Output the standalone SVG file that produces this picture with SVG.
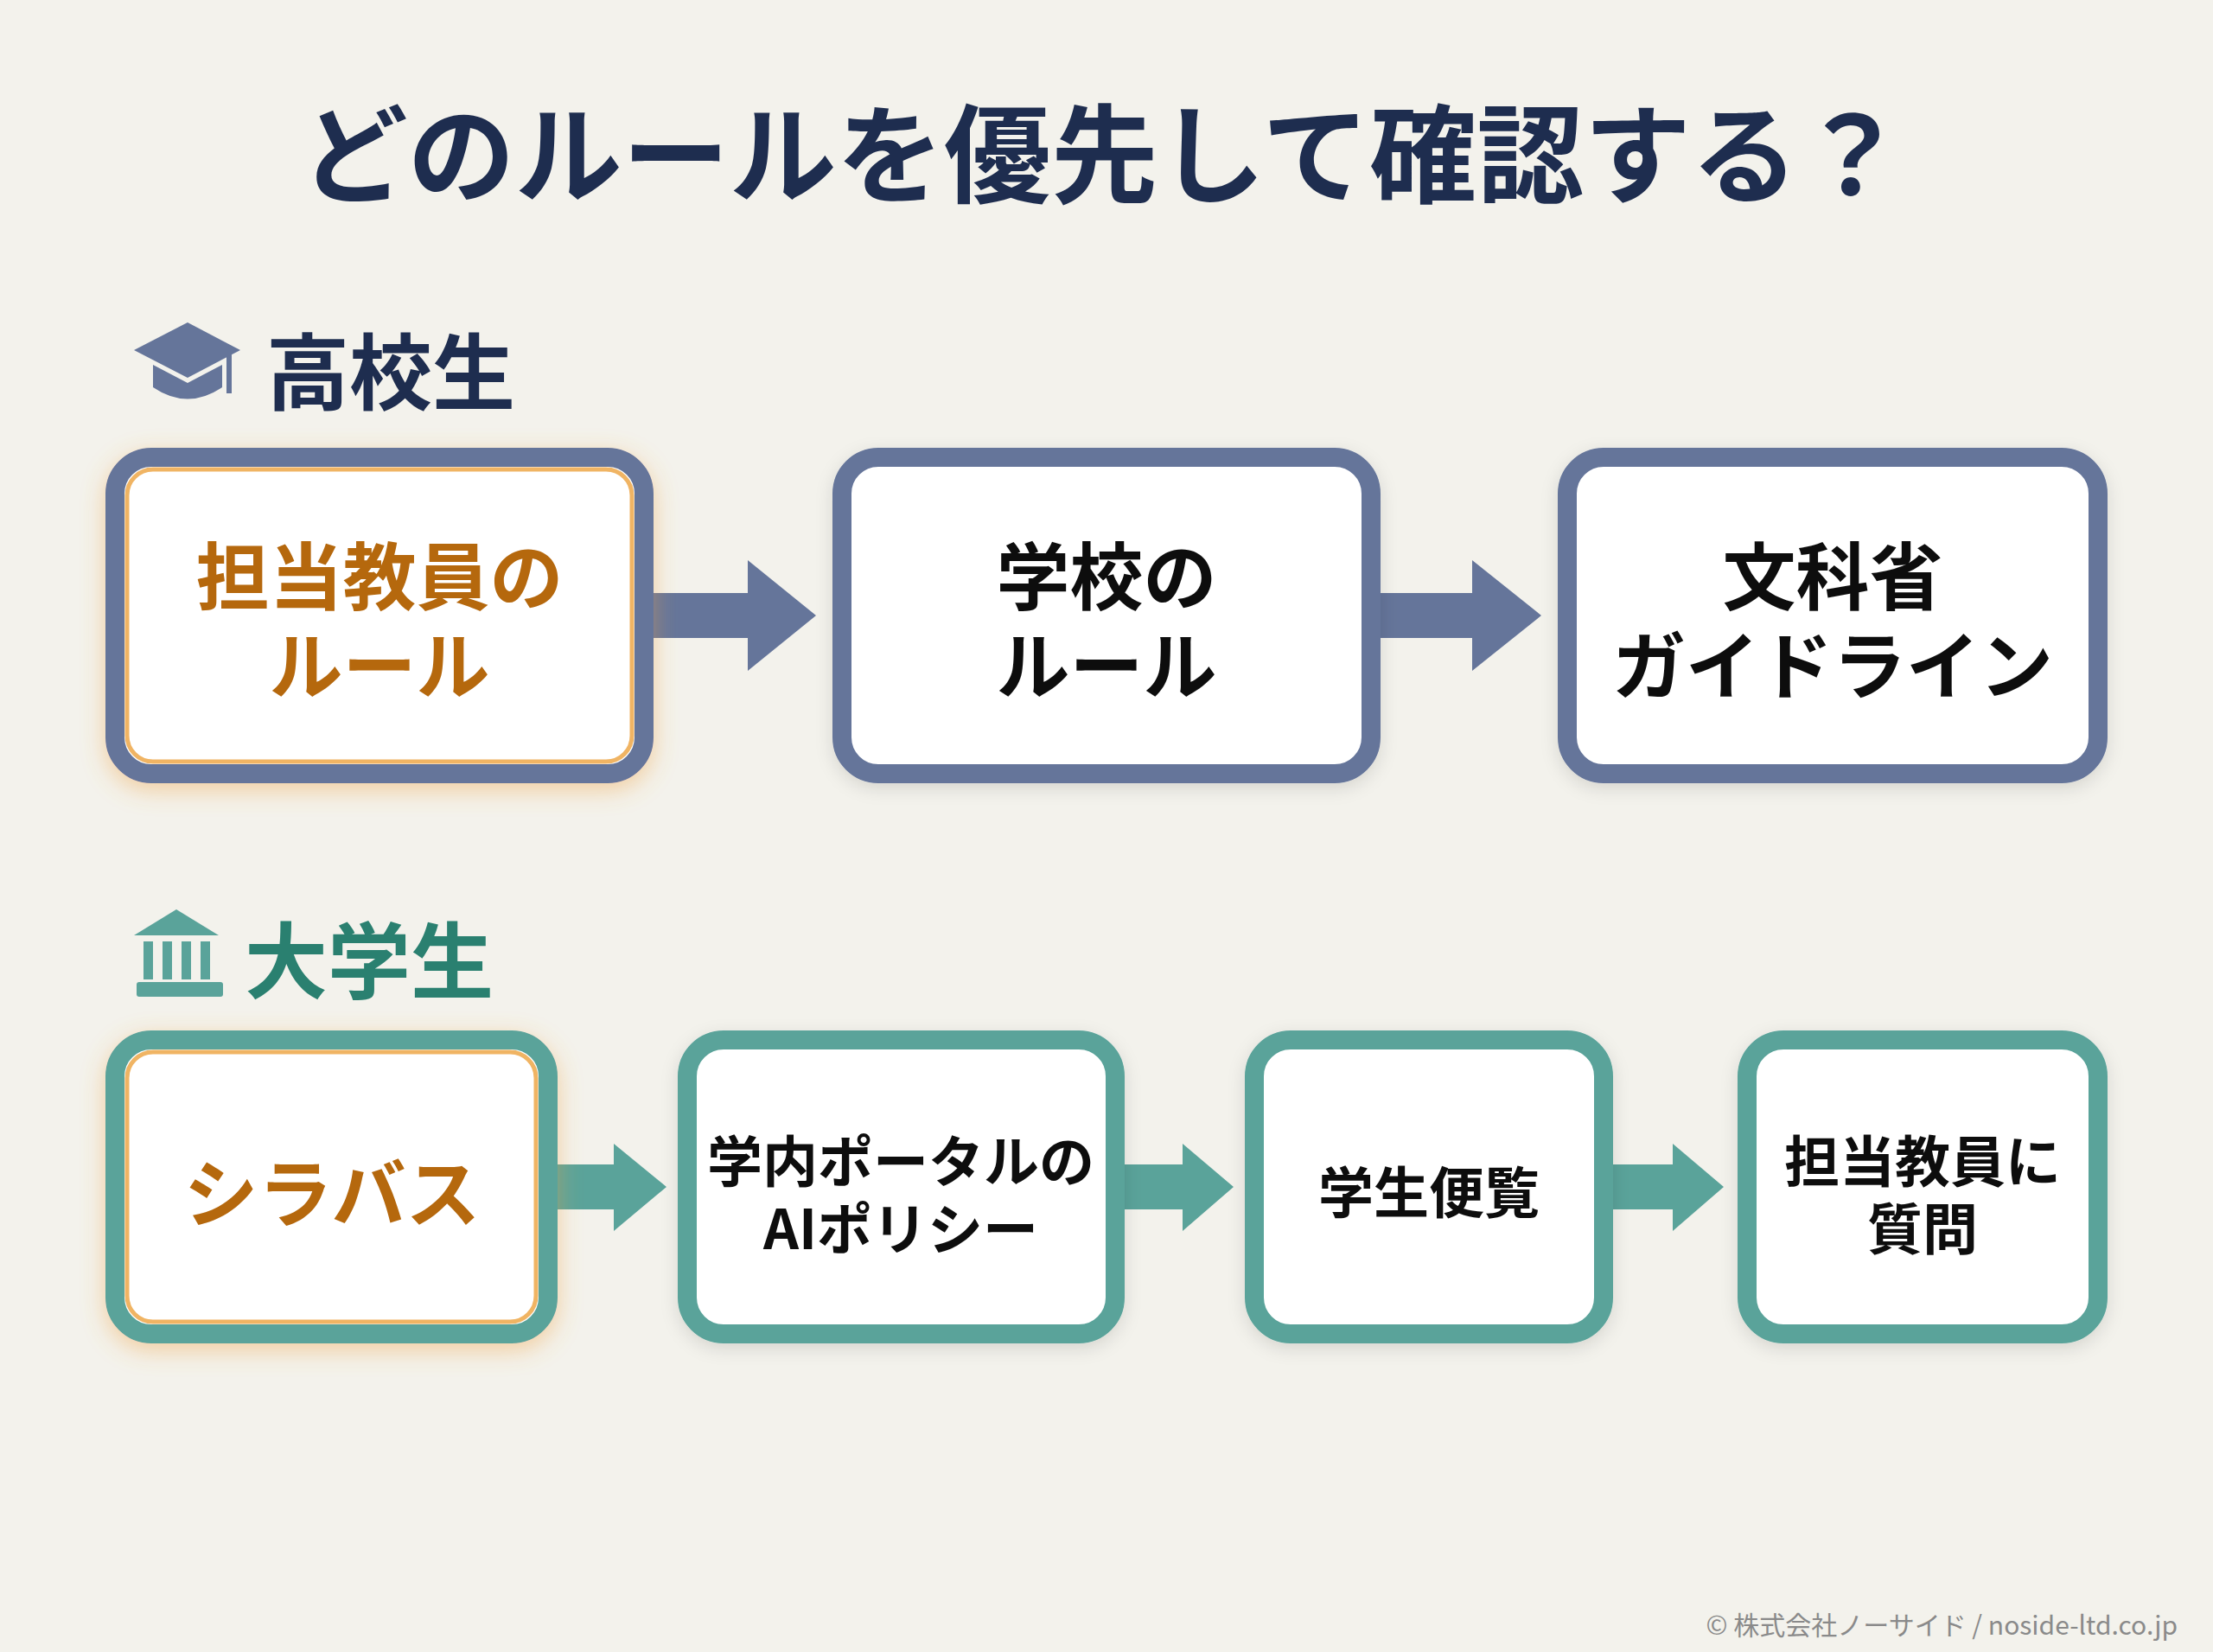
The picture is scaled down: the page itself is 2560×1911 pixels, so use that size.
<svg xmlns="http://www.w3.org/2000/svg" width="2560" height="1911" viewBox="0 0 2560 1911">
<defs>
<style>
text{font-family:"Noto Sans CJK JP","Noto Sans",sans-serif;font-weight:700;text-anchor:middle;dominant-baseline:central}
.hs{fill:#fff;stroke:#65759a;stroke-width:22}
.un{fill:#fff;stroke:#5aa39a;stroke-width:22}
.hl{fill:none;stroke:#f0b464;stroke-width:5}
.ot{fill:#b5680f}
.bt{fill:#111}
.ah{fill:#65759a}
.au{fill:#5aa39a}
</style>
<filter id="glow" x="-20%" y="-20%" width="140%" height="140%"><feDropShadow dx="0" dy="8" stdDeviation="14" flood-color="#f0a040" flood-opacity="0.45"/></filter>
<filter id="sh" x="-20%" y="-20%" width="140%" height="140%"><feDropShadow dx="0" dy="6" stdDeviation="10" flood-color="#000" flood-opacity="0.12"/></filter>
</defs>
<rect width="2560" height="1911" fill="#f3f2ec"/>
<text x="1276" y="171" font-size="124" fill="#1e2d4f">どのルールを優先して確認する？</text>

<g id="hs-heading">
<path d="M155,405 L217,373 L278,405 L217,437 Z" fill="#65759a"/>
<path d="M177,422 L177,448 Q217,475 257,448 L257,422 L217,443 Z" fill="#65759a"/>
<rect x="262" y="405" width="6" height="50" fill="#65759a"/>
<text x="452" y="424" font-size="96" fill="#1e2d4f">高校生</text>
</g>
<g id="un-heading">
<path d="M155,1082 L204,1052 L253,1082 Z" fill="#5aa39a"/>
<rect x="166" y="1089" width="11" height="44" fill="#5aa39a"/><rect x="188" y="1089" width="11" height="44" fill="#5aa39a"/><rect x="210" y="1089" width="11" height="44" fill="#5aa39a"/><rect x="232" y="1089" width="11" height="44" fill="#5aa39a"/>
<rect x="158" y="1136" width="100" height="17" rx="3" fill="#5aa39a"/>
<text x="427" y="1105" font-size="96" fill="#2a8070">大学生</text>
</g>

<g id="connectors">
<path class="ah" d="M756,686 H865 V648 L944,712 L865,776 V738 H756 Z"/>
<path class="ah" d="M1597,686 H1703 V648 L1783,712 L1703,776 V738 H1597 Z"/>
<path class="au" d="M645,1347 H710 V1323 L771,1373 L710,1424 V1399 H645 Z"/>
<path class="au" d="M1301,1347 H1368 V1323 L1427,1373 L1368,1424 V1399 H1301 Z"/>
<path class="au" d="M1866,1347 H1935 V1323 L1994,1373 L1935,1424 V1399 H1866 Z"/>
</g>

<g id="n1" filter="url(#glow)">
<rect class="hs" x="133" y="529" width="612" height="366" rx="42"/>
<rect class="hl" x="147" y="543" width="584" height="338" rx="30"/>
<text class="ot" x="439" y="661" font-size="85">担当教員の</text>
<text class="ot" x="439" y="764" font-size="85">ルール</text>
</g>
<g id="n2" filter="url(#sh)">
<rect class="hs" x="974" y="529" width="612" height="366" rx="42"/>
<text class="bt" x="1280" y="661" font-size="85">学校の</text>
<text class="bt" x="1280" y="764" font-size="85">ルール</text>
</g>
<g id="n3" filter="url(#sh)">
<rect class="hs" x="1813" y="529" width="614" height="366" rx="42"/>
<text class="bt" x="2120" y="661" font-size="85">文科省</text>
<text class="bt" x="2120" y="764" font-size="85">ガイドライン</text>
</g>

<g id="m1" filter="url(#glow)">
<rect class="un" x="133" y="1203" width="501" height="340" rx="42"/>
<rect class="hl" x="147" y="1217" width="473" height="312" rx="30"/>
<text class="ot" x="384" y="1375" font-size="86">シラバス</text>
</g>
<g id="m2" filter="url(#sh)">
<rect class="un" x="795" y="1203" width="495" height="340" rx="42"/>
<text class="bt" x="1042" y="1339" font-size="64">学内ポータルの</text>
<text class="bt" x="1042" y="1417" font-size="64">AIポリシー</text>
</g>
<g id="m3" filter="url(#sh)">
<rect class="un" x="1451" y="1203" width="404" height="340" rx="42"/>
<text class="bt" x="1653" y="1375" font-size="64">学生便覧</text>
</g>
<g id="m4" filter="url(#sh)">
<rect class="un" x="2021" y="1203" width="406" height="340" rx="42"/>
<text class="bt" x="2224" y="1339" font-size="64">担当教員に</text>
<text class="bt" x="2224" y="1417" font-size="64">質問</text>
</g>

<text x="2519" y="1878" font-size="30" fill="#8a8a8a" style="text-anchor:end;font-weight:400">© 株式会社ノーサイド / noside-ltd.co.jp</text>
</svg>
